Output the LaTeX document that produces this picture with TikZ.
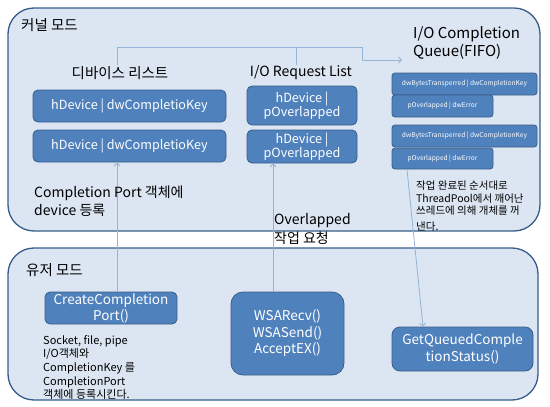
\documentclass[tikz,border=0pt]{standalone}
\usepackage{fontspec}
\setmainfont{Noto Sans CJK KR}
\usetikzlibrary{arrows.meta}

\definecolor{modefill}{HTML}{DCE6F2}
\definecolor{modeline}{HTML}{385D8A}
\definecolor{itemfill}{HTML}{4F81BD}
\definecolor{linkline}{HTML}{95B3D7}

\begin{document}
\begin{tikzpicture}[x=1pt,y=-1pt,
    mode/.style={draw=modeline,fill=modefill,line width=1.3pt,rounded corners=26pt},
    item/.style={draw=modeline,fill=itemfill,line width=0.8pt,rounded corners=5pt,
        text=white,align=center,inner sep=1pt,font=\fontsize{12.6}{14}\selectfont},
    qitem/.style={item,rounded corners=3pt,font=\fontsize{6.6}{7}\selectfont},
    heading/.style={inner sep=1pt,font=\fontsize{14.5}{18}\selectfont},
    note/.style={inner sep=0pt,align=left,anchor=north west},
    link/.style={draw=linkline,line width=0.8pt},
    arr/.style={link,-{Straight Barb[length=3pt,width=6pt]}}]

\useasboundingbox (0,0) rectangle (550,407);

% Modes
\draw[mode] (8,8) rectangle (540,231);
\draw[mode] (8,248) rectangle (538,400);

\node[heading,anchor=west] (kernel) at (20,25) {커널 모드};
\node[heading,anchor=west] (user) at (25,270) {유저 모드};

% Device list
\node[heading] (devlbl) at (120,73) {디바이스 리스트};
\node[item,minimum width=193pt,minimum height=32pt] (dev1) at (129.5,106) {hDevice | dwCompletioKey};
\node[item,minimum width=193pt,minimum height=32pt] (dev2) at (129.5,146) {hDevice | dwCompletioKey};

% Request list
\node[heading,font=\fontsize{14}{18}\selectfont] (reqlbl) at (301,73) {I/O Request List};
\node[item,minimum width=110pt,minimum height=39pt] (req1) at (302,105.5) {hDevice |\\pOverlapped};
\node[item,minimum width=110pt,minimum height=33pt] (req2) at (302,146.5) {hDevice |\\pOverlapped};

% Completion queue
\node[heading,note,font=\fontsize{15}{18}\selectfont] (qlbl) at (413,26) {I/O Completion\\Queue(FIFO)};
\node[qitem,minimum width=145pt,minimum height=22pt] (q1a) at (464.5,84) {dwBytesTransperred | dwCompletionKey};
\node[qitem,minimum width=101pt,minimum height=22pt] (q1b) at (442.5,106) {pOverlapped | dwError};
\node[qitem,minimum width=145pt,minimum height=22pt] (q2a) at (464.5,136) {dwBytesTransperred | dwCompletionKey};
\node[qitem,minimum width=101pt,minimum height=21pt] (q2b) at (442.5,158.5) {pOverlapped | dwError};

% User mode calls
\node[item,minimum width=132pt,minimum height=32pt,font=\fontsize{13.5}{16}\selectfont] (ccp) at (111,308) {CreateCompletion\\Port()};
\node[item,minimum width=113pt,minimum height=83pt,rounded corners=12pt,font=\fontsize{13.5}{16.5}\selectfont] (wsa) at (287.5,333.5) {WSARecv()\\WSASend()\\AcceptEX()};
\node[item,minimum width=141pt,minimum height=44pt,rounded corners=8pt,font=\fontsize{13.5}{17}\selectfont] (gq) at (462.5,349) {GetQueuedComple\\tionStatus()};

% Links
\coordinate (qin) at (402,60);
\draw[arr] ([xshift=-3pt]devlbl.north) |- (362,47) |- (qin);
\draw[link] (reqlbl.north -| 296,0) -- (296,47);
\draw[arr] ([xshift=6pt]ccp.north) -- ([xshift=-12.5pt]dev2.south);
\draw[arr] ([xshift=-14.5pt]wsa.north) -- ([xshift=-29pt]req2.south);
\draw[arr] ([xshift=-35.5pt]q2b.south) -- ([xshift=-39.5pt]gq.north);

% Notes
\node[note,font=\fontsize{14}{17.5}\selectfont] (regnote) at (34,186) {Completion Port 객체에\\device 등록};
\node[note,font=\fontsize{14}{19}\selectfont] (ovlnote) at (274,213) {Overlapped\\작업 요청};
\node[note,font=\fontsize{10.5}{12.5}\selectfont] (donenote) at (416,181) {작업 완료된 순서대로\\ThreadPool에서 깨어난\\쓰레드에 의해 개체를 꺼\\[3pt]낸다.};
\node[note,font=\fontsize{11}{13.7}\selectfont] (ccpnote) at (43,335) {Socket, file, pipe\\I/O객체와\\CompletionKey 를\\CompletionPort\\객체에 등록시킨다.};

\end{tikzpicture}
\end{document}
